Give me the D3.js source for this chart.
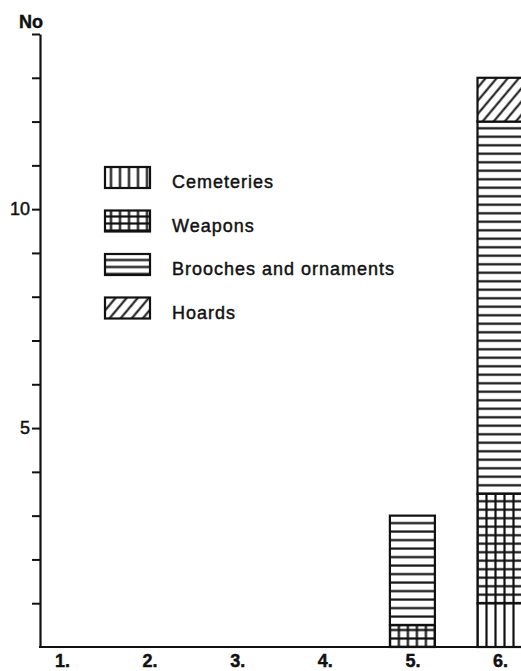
<!DOCTYPE html>
<html>
<head>
<meta charset="utf-8">
<script src="https://cdn.jsdelivr.net/npm/d3@7"></script>
<style>
  body { margin: 0; background: #fff; }
  svg { display: block; }
  text { font-family: "Liberation Sans", Arial, Helvetica, sans-serif; fill: #111; stroke: #111; stroke-width: 0.45px; }
</style>
</head>
<body>
<div id="chart"></div>
<script>
// data
var categories = ["1.", "2.", "3.", "4.", "5.", "6."];
var seriesNames = ["Cemeteries", "Weapons", "Brooches and ornaments", "Hoards"];
var seriesKeys = ["cem", "wea", "bro", "hoa"];
var cemeteries = [0, 0, 0, 0, 0, 1];
var weapons = [0, 0, 0, 0, 0.5, 2.5];
var brooches = [0, 0, 0, 0, 2.5, 8.5];
var hoards = [0, 0, 0, 0, 0, 1];
var yTicks = [1, 2, 3, 4, 5, 6, 7, 8, 9, 10, 11, 12, 13, 14];
var yLabelled = [5, 10];

var W = 521, H = 671;
var margin = {top: 34, left: 40, bottom: 24};
var barWidth = 45;
var ink = "#111";

var rows = categories.map(function (c, i) {
    return {cat: c, cem: cemeteries[i], wea: weapons[i], bro: brooches[i], hoa: hoards[i]};
});
var stacked = d3.stack().keys(seriesKeys)(rows);

var svg = d3.select("#chart").append("svg")
    .attr("width", W)
    .attr("height", H);
var defs = svg.append("defs");

var x = d3.scalePoint()
    .domain(categories)
    .range([62, 500]);

var y = d3.scaleLinear()
    .domain([0, 14])
    .range([H - margin.bottom, margin.top]);

// hatch pattern for a given series, lines anchored at (x0,y0)
function makePattern(id, key, x0, y0, rowStep) {
    var cs = 9, lw = 2.2;
    var p = defs.append("pattern")
        .attr("id", id)
        .attr("patternUnits", "userSpaceOnUse");
    if (key === "cem") {
        p.attr("x", x0 - cs / 2).attr("y", 0).attr("width", cs).attr("height", 10);
        p.append("rect").attr("width", cs).attr("height", 10).attr("fill", "#fff");
        p.append("line").attr("x1", cs / 2).attr("x2", cs / 2).attr("y1", 0).attr("y2", 10)
            .attr("stroke", ink).attr("stroke-width", lw);
    } else if (key === "wea") {
        p.attr("x", x0 - cs / 2).attr("y", y0 - rowStep / 2).attr("width", cs).attr("height", rowStep);
        p.append("rect").attr("width", cs).attr("height", rowStep).attr("fill", "#fff");
        p.append("line").attr("x1", cs / 2).attr("x2", cs / 2).attr("y1", 0).attr("y2", rowStep)
            .attr("stroke", ink).attr("stroke-width", lw);
        p.append("line").attr("x1", 0).attr("x2", cs).attr("y1", rowStep / 2).attr("y2", rowStep / 2)
            .attr("stroke", ink).attr("stroke-width", lw);
    } else if (key === "bro") {
        p.attr("x", 0).attr("y", y0 - rowStep / 2).attr("width", 10).attr("height", rowStep);
        p.append("rect").attr("width", 10).attr("height", rowStep).attr("fill", "#fff");
        p.append("line").attr("x1", 0).attr("x2", 10).attr("y1", rowStep / 2).attr("y2", rowStep / 2)
            .attr("stroke", ink).attr("stroke-width", lw);
    } else {
        p.attr("x", x0).attr("y", y0).attr("width", 8.5).attr("height", 10)
            .attr("patternTransform", "rotate(40)");
        p.append("rect").attr("width", 8.5).attr("height", 10).attr("fill", "#fff");
        p.append("line").attr("x1", 4.25).attr("x2", 4.25).attr("y1", 0).attr("y2", 10)
            .attr("stroke", ink).attr("stroke-width", 2);
    }
}

// bars
var layer = svg.append("g").attr("class", "bars");
stacked.forEach(function (s) {
    s.forEach(function (d, i) {
        if (d[1] - d[0] <= 0) return;
        var bx = x(categories[i]) - barWidth / 2;
        var id = "p-" + s.key + "-" + i;
        makePattern(id, s.key, bx, y(d[0]), 8.5);
        layer.append("rect")
            .attr("x", bx)
            .attr("y", y(d[1]))
            .attr("width", barWidth)
            .attr("height", y(d[0]) - y(d[1]))
            .attr("fill", "url(#" + id + ")")
            .attr("stroke", ink)
            .attr("stroke-width", 2.2);
    });
});

// y axis
var yAxis = d3.axisLeft(y)
    .tickValues(yTicks)
    .tickSize(8)
    .tickSizeOuter(0)
    .tickPadding(2)
    .tickFormat(function (d) { return yLabelled.indexOf(d) >= 0 ? d : ""; });

var gy = svg.append("g")
    .attr("transform", "translate(" + margin.left + ",0)")
    .call(yAxis);
gy.select(".domain").attr("stroke", ink).attr("stroke-width", 2.2);
gy.selectAll(".tick line").attr("stroke", ink).attr("stroke-width", 2);
gy.selectAll(".tick text")
    .style("font-family", "Liberation Sans, Arial, sans-serif")
    .style("font-size", "18px")
    .attr("fill", ink);

svg.append("text")
    .attr("x", margin.left + 3)
    .attr("y", margin.top - 6)
    .attr("text-anchor", "end")
    .style("font-size", "18px")
    .style("font-weight", "bold")
    .text("No");

// x axis
svg.append("line")
    .attr("x1", margin.left - 1)
    .attr("x2", W)
    .attr("y1", y(0))
    .attr("y2", y(0))
    .attr("stroke", ink)
    .attr("stroke-width", 2.2);

var gx = svg.append("g")
    .attr("transform", "translate(0," + y(0) + ")")
    .call(d3.axisBottom(x).tickSize(0).tickPadding(7));
gx.select(".domain").remove();
gx.selectAll(".tick text")
    .style("font-family", "Liberation Sans, Arial, sans-serif")
    .style("font-size", "18px")
    .style("font-weight", "bold")
    .attr("fill", ink);

// legend
var legend = svg.append("g").attr("transform", "translate(105,167)");
seriesKeys.forEach(function (k, i) {
    var ly = i * 43.5;
    var id = "leg-" + k;
    makePattern(id, k, 105, 167 + ly + 21, 7);
    legend.append("rect")
        .attr("x", 0)
        .attr("y", ly)
        .attr("width", barWidth)
        .attr("height", 21)
        .attr("fill", "url(#" + id + ")")
        .attr("stroke", ink)
        .attr("stroke-width", 2.2);
    legend.append("text")
        .attr("x", 67)
        .attr("y", ly + 21)
        .style("font-size", "18px")
        .style("letter-spacing", "1px")
        .text(seriesNames[i]);
});
</script>
</body>
</html>
